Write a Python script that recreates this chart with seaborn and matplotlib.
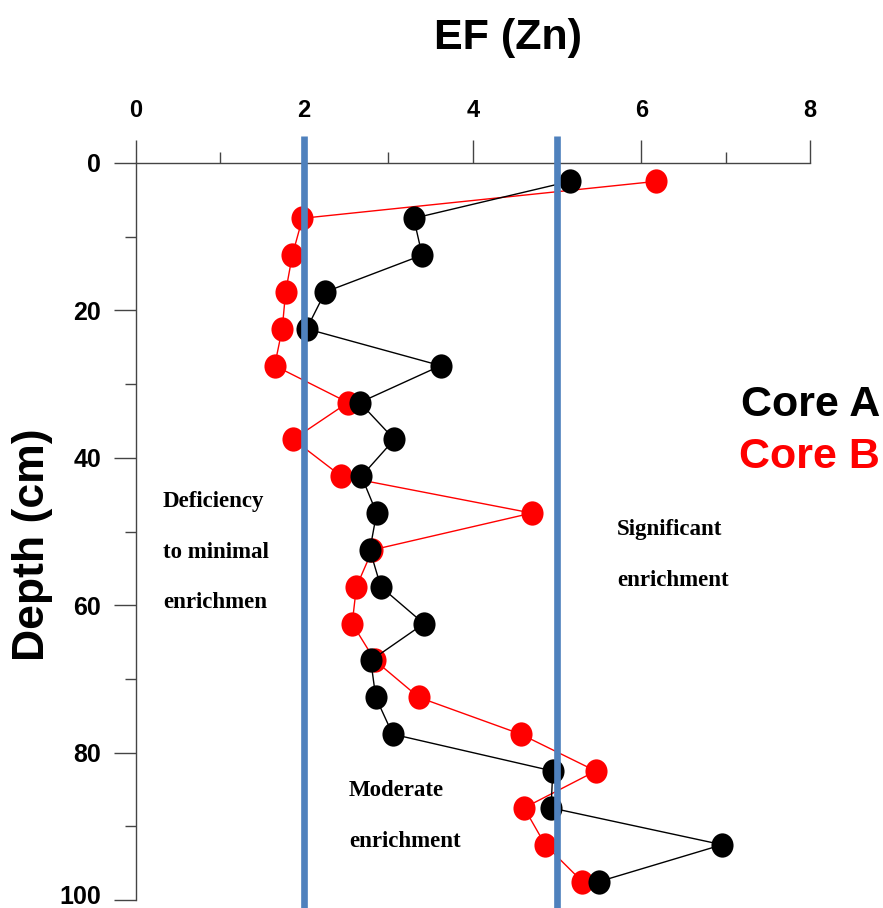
import numpy as np
import pandas as pd
import matplotlib
matplotlib.use("Agg")
import matplotlib.pyplot as plt
from matplotlib.path import Path
from matplotlib.ticker import MultipleLocator
import matplotlib.transforms as mtransforms
import seaborn as sns

# Sample depths (cm), mid-points of 5 cm slices
depth = [2.5, 7.5, 12.5, 17.5, 22.5, 27.5, 32.5, 37.5, 42.5, 47.5,
         52.5, 57.5, 62.5, 67.5, 72.5, 77.5, 82.5, 87.5, 92.5, 97.5]

# Enrichment factor of Zn for each core
ef_core_a = [5.15, 3.30, 3.40, 2.25, 2.03, 3.62, 2.66, 3.07, 2.68, 2.86,
             2.78, 2.91, 3.42, 2.79, 2.85, 3.05, 4.95, 4.93, 6.96, 5.50]
ef_core_b = [6.17, 1.98, 1.86, 1.78, 1.74, 1.65, 2.52, 1.87, 2.44, 4.70,
             2.81, 2.62, 2.57, 2.84, 3.36, 4.57, 5.46, 4.61, 4.86, 5.30]

series_names = ["Core A", "Core B"]
series_colors = ["black", "red"]

# Class boundaries of the EF scale
thresholds = [2, 5]
zone_labels = [
    ("Deficiency\n\nto minimal\n\nenrichmen", 163, 552),
    ("Significant\n\nenrichment", 617, 555),
    ("Moderate\n\nenrichment", 349, 816),
]

df = pd.DataFrame({
    "depth": depth * 2,
    "ef": ef_core_a + ef_core_b,
    "core": [series_names[0]] * len(depth) + [series_names[1]] * len(depth),
})

sns.set_style("ticks")
plt.rcParams["font.family"] = ["Liberation Sans", "DejaVu Sans"]
plt.rcParams["text.color"] = "black"
plt.rcParams["axes.labelcolor"] = "black"
plt.rcParams["xtick.color"] = "black"
plt.rcParams["ytick.color"] = "black"

W, H = 883, 908
fig = plt.figure(figsize=(W / 100, H / 100), dpi=100)
ax = fig.add_axes([135.6 / W, 1 - 900 / H, (809.8 - 135.6) / W, (900 - 163) / H])

# slightly tall elliptical marker
circ = Path.unit_circle()
ell = Path(circ.vertices * np.array([1.0, 1.1]), circ.codes)

# Core B first so Core A sits on top
for name, color in zip(series_names[::-1], series_colors[::-1]):
    sub = df[df["core"] == name]
    sns.lineplot(data=sub, x="ef", y="depth", orient="y", sort=False, ax=ax,
                 color=color, linewidth=1.0, marker=ell, markersize=17.5,
                 markeredgewidth=0, markerfacecolor=color, legend=False,
                 zorder=3 if name == "Core A" else 2)

for t in thresholds:
    ax.plot([t, t], [-3.6, 102], color="#4F81BD", linewidth=4.8,
            clip_on=False, zorder=4, solid_capstyle="butt")

ax.set_xlim(0, 8)
ax.set_ylim(100, 0)
ax.xaxis.set_major_locator(MultipleLocator(2))
ax.xaxis.set_minor_locator(MultipleLocator(1))
ax.yaxis.set_major_locator(MultipleLocator(20))
ax.yaxis.set_minor_locator(MultipleLocator(10))
ax.xaxis.tick_top()
ax.xaxis.set_label_position("top")
ax.set_xlabel("")
ax.set_ylabel("")

spine_col = "#444444"
for s in ["right", "bottom"]:
    ax.spines[s].set_visible(False)
for s in ["top", "left"]:
    ax.spines[s].set_color(spine_col)
    ax.spines[s].set_linewidth(1.0)

ax.tick_params(axis="x", which="major", length=16.5, width=1.0, color=spine_col,
               pad=13, labelsize=17, labelcolor="black")
ax.tick_params(axis="x", which="minor", length=8, width=1.0, color=spine_col)
ax.tick_params(axis="y", which="major", length=16, width=1.0, color=spine_col,
               pad=9, labelsize=18, labelcolor="black")
ax.tick_params(axis="y", which="minor", length=8, width=1.0, color=spine_col)
for lab in ax.get_xticklabels() + ax.get_yticklabels():
    lab.set_fontweight("bold")

# keep the lowest depth label inside the canvas
fig.canvas.draw()
for tick in ax.yaxis.get_major_ticks():
    if np.isclose(tick.get_loc(), 100):
        lab = tick.label1
        lab.set_transform(lab.get_transform() +
                          mtransforms.ScaledTranslation(0, 4 / 72, fig.dpi_scale_trans))

fig.text(508 / W, 1 - 38 / H, "EF (Zn)", fontsize=31, fontweight="bold",
         ha="center", va="center")
fig.text(33 / W, 1 - 545 / H, "Depth (cm)", fontsize=32, fontweight="bold",
         ha="center", va="center", rotation=90)

fig.text(880 / W, 1 - 405 / H, series_names[0], fontsize=31, fontweight="bold",
         color=series_colors[0], ha="right", va="center")
fig.text(880 / W, 1 - 457 / H, series_names[1], fontsize=31, fontweight="bold",
         color=series_colors[1], ha="right", va="center")

for txt, px, py in zone_labels:
    fig.text(px / W, 1 - py / H, txt, fontsize=16.5, fontweight="bold",
             family=["Liberation Serif", "DejaVu Serif"], ha="left", va="center",
             linespacing=1.27, color="black")

fig.savefig("out.png", dpi=100)
